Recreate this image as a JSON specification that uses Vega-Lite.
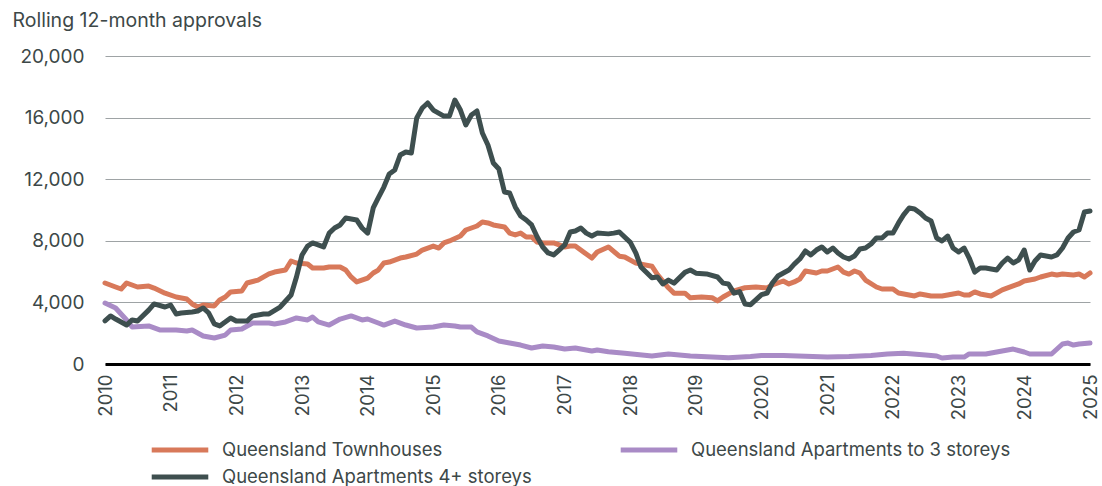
{
  "$schema": "https://vega.github.io/schema/vega-lite/v6.json",
  "autosize": "none",
  "width": 985,
  "height": 308,
  "padding": {"left": 105, "top": 56, "right": 12, "bottom": 122},
  "background": "white",
  "config": {
    "font": "Inter",
    "view": {"stroke": null},
    "axis": {"labelColor": "#3d4848", "titleColor": "#3d4848", "labelFont": "Inter", "titleFont": "Inter"},
    "legend": {"labelFont": "Inter", "labelColor": "#3d4848"}
  },
  "data": {"values": [
    {"d":"2010-01","s":"Queensland Townhouses","v":5260},{"d":"2010-03","s":"Queensland Townhouses","v":5000},{"d":"2010-04","s":"Queensland Townhouses","v":4870},{"d":"2010-05","s":"Queensland Townhouses","v":5260},{"d":"2010-07","s":"Queensland Townhouses","v":5000},{"d":"2010-09","s":"Queensland Townhouses","v":5060},{"d":"2010-10","s":"Queensland Townhouses","v":4930},{"d":"2010-12","s":"Queensland Townhouses","v":4600},{"d":"2011-02","s":"Queensland Townhouses","v":4350},{"d":"2011-04","s":"Queensland Townhouses","v":4220},{"d":"2011-05","s":"Queensland Townhouses","v":3900},{"d":"2011-06","s":"Queensland Townhouses","v":3700},{"d":"2011-07","s":"Queensland Townhouses","v":3830},{"d":"2011-09","s":"Queensland Townhouses","v":3770},{"d":"2011-10","s":"Queensland Townhouses","v":4160},{"d":"2011-11","s":"Queensland Townhouses","v":4350},{"d":"2011-12","s":"Queensland Townhouses","v":4680},{"d":"2012-02","s":"Queensland Townhouses","v":4740},{"d":"2012-03","s":"Queensland Townhouses","v":5260},{"d":"2012-05","s":"Queensland Townhouses","v":5450},{"d":"2012-07","s":"Queensland Townhouses","v":5850},{"d":"2012-08","s":"Queensland Townhouses","v":5970},{"d":"2012-10","s":"Queensland Townhouses","v":6100},{"d":"2012-11","s":"Queensland Townhouses","v":6690},{"d":"2012-12","s":"Queensland Townhouses","v":6560},{"d":"2013-02","s":"Queensland Townhouses","v":6490},{"d":"2013-03","s":"Queensland Townhouses","v":6230},{"d":"2013-05","s":"Queensland Townhouses","v":6230},{"d":"2013-06","s":"Queensland Townhouses","v":6300},{"d":"2013-08","s":"Queensland Townhouses","v":6300},{"d":"2013-09","s":"Queensland Townhouses","v":6100},{"d":"2013-10","s":"Queensland Townhouses","v":5650},{"d":"2013-11","s":"Queensland Townhouses","v":5330},{"d":"2014-01","s":"Queensland Townhouses","v":5580},{"d":"2014-02","s":"Queensland Townhouses","v":5910},{"d":"2014-03","s":"Queensland Townhouses","v":6100},{"d":"2014-04","s":"Queensland Townhouses","v":6560},{"d":"2014-05","s":"Queensland Townhouses","v":6620},{"d":"2014-07","s":"Queensland Townhouses","v":6880},{"d":"2014-08","s":"Queensland Townhouses","v":6950},{"d":"2014-10","s":"Queensland Townhouses","v":7140},{"d":"2014-11","s":"Queensland Townhouses","v":7400},{"d":"2015-01","s":"Queensland Townhouses","v":7660},{"d":"2015-02","s":"Queensland Townhouses","v":7530},{"d":"2015-03","s":"Queensland Townhouses","v":7860},{"d":"2015-04","s":"Queensland Townhouses","v":7990},{"d":"2015-06","s":"Queensland Townhouses","v":8310},{"d":"2015-07","s":"Queensland Townhouses","v":8700},{"d":"2015-09","s":"Queensland Townhouses","v":8960},{"d":"2015-10","s":"Queensland Townhouses","v":9220},{"d":"2015-11","s":"Queensland Townhouses","v":9160},{"d":"2015-12","s":"Queensland Townhouses","v":9030},{"d":"2016-02","s":"Queensland Townhouses","v":8900},{"d":"2016-03","s":"Queensland Townhouses","v":8500},{"d":"2016-04","s":"Queensland Townhouses","v":8380},{"d":"2016-05","s":"Queensland Townhouses","v":8500},{"d":"2016-06","s":"Queensland Townhouses","v":8250},{"d":"2016-07","s":"Queensland Townhouses","v":8250},{"d":"2016-08","s":"Queensland Townhouses","v":7920},{"d":"2016-09","s":"Queensland Townhouses","v":7860},{"d":"2016-11","s":"Queensland Townhouses","v":7860},{"d":"2017-01","s":"Queensland Townhouses","v":7600},{"d":"2017-02","s":"Queensland Townhouses","v":7660},{"d":"2017-03","s":"Queensland Townhouses","v":7660},{"d":"2017-05","s":"Queensland Townhouses","v":7140},{"d":"2017-06","s":"Queensland Townhouses","v":6880},{"d":"2017-07","s":"Queensland Townhouses","v":7270},{"d":"2017-09","s":"Queensland Townhouses","v":7600},{"d":"2017-11","s":"Queensland Townhouses","v":7000},{"d":"2017-12","s":"Queensland Townhouses","v":6950},{"d":"2018-02","s":"Queensland Townhouses","v":6550},{"d":"2018-05","s":"Queensland Townhouses","v":6350},{"d":"2018-06","s":"Queensland Townhouses","v":5800},{"d":"2018-08","s":"Queensland Townhouses","v":4950},{"d":"2018-09","s":"Queensland Townhouses","v":4600},{"d":"2018-11","s":"Queensland Townhouses","v":4600},{"d":"2018-12","s":"Queensland Townhouses","v":4300},{"d":"2019-02","s":"Queensland Townhouses","v":4350},{"d":"2019-04","s":"Queensland Townhouses","v":4300},{"d":"2019-05","s":"Queensland Townhouses","v":4100},{"d":"2019-06","s":"Queensland Townhouses","v":4350},{"d":"2019-08","s":"Queensland Townhouses","v":4750},{"d":"2019-10","s":"Queensland Townhouses","v":4950},{"d":"2019-12","s":"Queensland Townhouses","v":5000},{"d":"2020-02","s":"Queensland Townhouses","v":4940},{"d":"2020-03","s":"Queensland Townhouses","v":5130},{"d":"2020-05","s":"Queensland Townhouses","v":5390},{"d":"2020-06","s":"Queensland Townhouses","v":5200},{"d":"2020-07","s":"Queensland Townhouses","v":5330},{"d":"2020-08","s":"Queensland Townhouses","v":5520},{"d":"2020-09","s":"Queensland Townhouses","v":6040},{"d":"2020-11","s":"Queensland Townhouses","v":5910},{"d":"2020-12","s":"Queensland Townhouses","v":6040},{"d":"2021-01","s":"Queensland Townhouses","v":6040},{"d":"2021-03","s":"Queensland Townhouses","v":6300},{"d":"2021-04","s":"Queensland Townhouses","v":5970},{"d":"2021-05","s":"Queensland Townhouses","v":5840},{"d":"2021-06","s":"Queensland Townhouses","v":6040},{"d":"2021-07","s":"Queensland Townhouses","v":5910},{"d":"2021-08","s":"Queensland Townhouses","v":5450},{"d":"2021-10","s":"Queensland Townhouses","v":5000},{"d":"2021-11","s":"Queensland Townhouses","v":4870},{"d":"2022-01","s":"Queensland Townhouses","v":4870},{"d":"2022-02","s":"Queensland Townhouses","v":4610},{"d":"2022-04","s":"Queensland Townhouses","v":4480},{"d":"2022-05","s":"Queensland Townhouses","v":4420},{"d":"2022-06","s":"Queensland Townhouses","v":4550},{"d":"2022-08","s":"Queensland Townhouses","v":4420},{"d":"2022-10","s":"Queensland Townhouses","v":4420},{"d":"2022-11","s":"Queensland Townhouses","v":4480},{"d":"2023-01","s":"Queensland Townhouses","v":4610},{"d":"2023-02","s":"Queensland Townhouses","v":4480},{"d":"2023-03","s":"Queensland Townhouses","v":4480},{"d":"2023-04","s":"Queensland Townhouses","v":4680},{"d":"2023-05","s":"Queensland Townhouses","v":4550},{"d":"2023-07","s":"Queensland Townhouses","v":4420},{"d":"2023-08","s":"Queensland Townhouses","v":4610},{"d":"2023-09","s":"Queensland Townhouses","v":4810},{"d":"2023-10","s":"Queensland Townhouses","v":4940},{"d":"2023-12","s":"Queensland Townhouses","v":5200},{"d":"2024-01","s":"Queensland Townhouses","v":5390},{"d":"2024-03","s":"Queensland Townhouses","v":5520},{"d":"2024-04","s":"Queensland Townhouses","v":5650},{"d":"2024-06","s":"Queensland Townhouses","v":5840},{"d":"2024-07","s":"Queensland Townhouses","v":5780},{"d":"2024-08","s":"Queensland Townhouses","v":5840},{"d":"2024-10","s":"Queensland Townhouses","v":5780},{"d":"2024-11","s":"Queensland Townhouses","v":5840},{"d":"2024-12","s":"Queensland Townhouses","v":5650},{"d":"2025-01","s":"Queensland Townhouses","v":5910},
    {"d":"2010-01","s":"Queensland Apartments to 3 storeys","v":3960},{"d":"2010-03","s":"Queensland Apartments to 3 storeys","v":3640},{"d":"2010-05","s":"Queensland Apartments to 3 storeys","v":2860},{"d":"2010-06","s":"Queensland Apartments to 3 storeys","v":2400},{"d":"2010-09","s":"Queensland Apartments to 3 storeys","v":2470},{"d":"2010-11","s":"Queensland Apartments to 3 storeys","v":2210},{"d":"2011-02","s":"Queensland Apartments to 3 storeys","v":2210},{"d":"2011-04","s":"Queensland Apartments to 3 storeys","v":2140},{"d":"2011-05","s":"Queensland Apartments to 3 storeys","v":2210},{"d":"2011-07","s":"Queensland Apartments to 3 storeys","v":1820},{"d":"2011-09","s":"Queensland Apartments to 3 storeys","v":1690},{"d":"2011-11","s":"Queensland Apartments to 3 storeys","v":1880},{"d":"2011-12","s":"Queensland Apartments to 3 storeys","v":2210},{"d":"2012-02","s":"Queensland Apartments to 3 storeys","v":2270},{"d":"2012-04","s":"Queensland Apartments to 3 storeys","v":2660},{"d":"2012-07","s":"Queensland Apartments to 3 storeys","v":2660},{"d":"2012-08","s":"Queensland Apartments to 3 storeys","v":2600},{"d":"2012-10","s":"Queensland Apartments to 3 storeys","v":2730},{"d":"2012-12","s":"Queensland Apartments to 3 storeys","v":2990},{"d":"2013-02","s":"Queensland Apartments to 3 storeys","v":2860},{"d":"2013-03","s":"Queensland Apartments to 3 storeys","v":3050},{"d":"2013-04","s":"Queensland Apartments to 3 storeys","v":2730},{"d":"2013-06","s":"Queensland Apartments to 3 storeys","v":2530},{"d":"2013-08","s":"Queensland Apartments to 3 storeys","v":2920},{"d":"2013-10","s":"Queensland Apartments to 3 storeys","v":3120},{"d":"2013-12","s":"Queensland Apartments to 3 storeys","v":2860},{"d":"2014-01","s":"Queensland Apartments to 3 storeys","v":2920},{"d":"2014-03","s":"Queensland Apartments to 3 storeys","v":2660},{"d":"2014-04","s":"Queensland Apartments to 3 storeys","v":2530},{"d":"2014-06","s":"Queensland Apartments to 3 storeys","v":2790},{"d":"2014-08","s":"Queensland Apartments to 3 storeys","v":2530},{"d":"2014-10","s":"Queensland Apartments to 3 storeys","v":2340},{"d":"2015-01","s":"Queensland Apartments to 3 storeys","v":2400},{"d":"2015-03","s":"Queensland Apartments to 3 storeys","v":2530},{"d":"2015-05","s":"Queensland Apartments to 3 storeys","v":2470},{"d":"2015-06","s":"Queensland Apartments to 3 storeys","v":2400},{"d":"2015-08","s":"Queensland Apartments to 3 storeys","v":2400},{"d":"2015-09","s":"Queensland Apartments to 3 storeys","v":2080},{"d":"2015-11","s":"Queensland Apartments to 3 storeys","v":1820},{"d":"2016-01","s":"Queensland Apartments to 3 storeys","v":1490},{"d":"2016-03","s":"Queensland Apartments to 3 storeys","v":1360},{"d":"2016-05","s":"Queensland Apartments to 3 storeys","v":1230},{"d":"2016-07","s":"Queensland Apartments to 3 storeys","v":1040},{"d":"2016-09","s":"Queensland Apartments to 3 storeys","v":1170},{"d":"2016-11","s":"Queensland Apartments to 3 storeys","v":1100},{"d":"2017-01","s":"Queensland Apartments to 3 storeys","v":970},{"d":"2017-03","s":"Queensland Apartments to 3 storeys","v":1040},{"d":"2017-06","s":"Queensland Apartments to 3 storeys","v":840},{"d":"2017-07","s":"Queensland Apartments to 3 storeys","v":910},{"d":"2017-09","s":"Queensland Apartments to 3 storeys","v":800},{"d":"2017-12","s":"Queensland Apartments to 3 storeys","v":700},{"d":"2018-05","s":"Queensland Apartments to 3 storeys","v":520},{"d":"2018-08","s":"Queensland Apartments to 3 storeys","v":650},{"d":"2018-12","s":"Queensland Apartments to 3 storeys","v":520},{"d":"2019-04","s":"Queensland Apartments to 3 storeys","v":450},{"d":"2019-07","s":"Queensland Apartments to 3 storeys","v":400},{"d":"2019-11","s":"Queensland Apartments to 3 storeys","v":480},{"d":"2020-01","s":"Queensland Apartments to 3 storeys","v":550},{"d":"2020-05","s":"Queensland Apartments to 3 storeys","v":550},{"d":"2020-09","s":"Queensland Apartments to 3 storeys","v":500},{"d":"2021-01","s":"Queensland Apartments to 3 storeys","v":450},{"d":"2021-05","s":"Queensland Apartments to 3 storeys","v":480},{"d":"2021-09","s":"Queensland Apartments to 3 storeys","v":550},{"d":"2021-12","s":"Queensland Apartments to 3 storeys","v":650},{"d":"2022-03","s":"Queensland Apartments to 3 storeys","v":700},{"d":"2022-07","s":"Queensland Apartments to 3 storeys","v":580},{"d":"2022-09","s":"Queensland Apartments to 3 storeys","v":520},{"d":"2022-10","s":"Queensland Apartments to 3 storeys","v":390},{"d":"2022-12","s":"Queensland Apartments to 3 storeys","v":450},{"d":"2023-02","s":"Queensland Apartments to 3 storeys","v":450},{"d":"2023-03","s":"Queensland Apartments to 3 storeys","v":650},{"d":"2023-05","s":"Queensland Apartments to 3 storeys","v":650},{"d":"2023-06","s":"Queensland Apartments to 3 storeys","v":650},{"d":"2023-08","s":"Queensland Apartments to 3 storeys","v":780},{"d":"2023-10","s":"Queensland Apartments to 3 storeys","v":910},{"d":"2023-11","s":"Queensland Apartments to 3 storeys","v":970},{"d":"2024-01","s":"Queensland Apartments to 3 storeys","v":780},{"d":"2024-02","s":"Queensland Apartments to 3 storeys","v":650},{"d":"2024-04","s":"Queensland Apartments to 3 storeys","v":650},{"d":"2024-06","s":"Queensland Apartments to 3 storeys","v":650},{"d":"2024-08","s":"Queensland Apartments to 3 storeys","v":1300},{"d":"2024-09","s":"Queensland Apartments to 3 storeys","v":1360},{"d":"2024-10","s":"Queensland Apartments to 3 storeys","v":1230},{"d":"2024-11","s":"Queensland Apartments to 3 storeys","v":1300},{"d":"2025-01","s":"Queensland Apartments to 3 storeys","v":1360},
    {"d":"2010-01","s":"Queensland Apartments 4+ storeys","v":2800},{"d":"2010-02","s":"Queensland Apartments 4+ storeys","v":3120},{"d":"2010-03","s":"Queensland Apartments 4+ storeys","v":2920},{"d":"2010-05","s":"Queensland Apartments 4+ storeys","v":2530},{"d":"2010-06","s":"Queensland Apartments 4+ storeys","v":2860},{"d":"2010-07","s":"Queensland Apartments 4+ storeys","v":2790},{"d":"2010-09","s":"Queensland Apartments 4+ storeys","v":3500},{"d":"2010-10","s":"Queensland Apartments 4+ storeys","v":3900},{"d":"2010-12","s":"Queensland Apartments 4+ storeys","v":3700},{"d":"2011-01","s":"Queensland Apartments 4+ storeys","v":3830},{"d":"2011-02","s":"Queensland Apartments 4+ storeys","v":3250},{"d":"2011-03","s":"Queensland Apartments 4+ storeys","v":3310},{"d":"2011-05","s":"Queensland Apartments 4+ storeys","v":3380},{"d":"2011-06","s":"Queensland Apartments 4+ storeys","v":3440},{"d":"2011-07","s":"Queensland Apartments 4+ storeys","v":3640},{"d":"2011-08","s":"Queensland Apartments 4+ storeys","v":3310},{"d":"2011-09","s":"Queensland Apartments 4+ storeys","v":2600},{"d":"2011-10","s":"Queensland Apartments 4+ storeys","v":2470},{"d":"2011-12","s":"Queensland Apartments 4+ storeys","v":2990},{"d":"2012-01","s":"Queensland Apartments 4+ storeys","v":2790},{"d":"2012-03","s":"Queensland Apartments 4+ storeys","v":2790},{"d":"2012-04","s":"Queensland Apartments 4+ storeys","v":3120},{"d":"2012-06","s":"Queensland Apartments 4+ storeys","v":3250},{"d":"2012-07","s":"Queensland Apartments 4+ storeys","v":3250},{"d":"2012-09","s":"Queensland Apartments 4+ storeys","v":3700},{"d":"2012-11","s":"Queensland Apartments 4+ storeys","v":4480},{"d":"2012-12","s":"Queensland Apartments 4+ storeys","v":5650},{"d":"2013-01","s":"Queensland Apartments 4+ storeys","v":7080},{"d":"2013-02","s":"Queensland Apartments 4+ storeys","v":7660},{"d":"2013-03","s":"Queensland Apartments 4+ storeys","v":7860},{"d":"2013-05","s":"Queensland Apartments 4+ storeys","v":7600},{"d":"2013-06","s":"Queensland Apartments 4+ storeys","v":8500},{"d":"2013-07","s":"Queensland Apartments 4+ storeys","v":8830},{"d":"2013-08","s":"Queensland Apartments 4+ storeys","v":9030},{"d":"2013-09","s":"Queensland Apartments 4+ storeys","v":9480},{"d":"2013-11","s":"Queensland Apartments 4+ storeys","v":9350},{"d":"2013-12","s":"Queensland Apartments 4+ storeys","v":8830},{"d":"2014-01","s":"Queensland Apartments 4+ storeys","v":8500},{"d":"2014-02","s":"Queensland Apartments 4+ storeys","v":10130},{"d":"2014-03","s":"Queensland Apartments 4+ storeys","v":10780},{"d":"2014-04","s":"Queensland Apartments 4+ storeys","v":11490},{"d":"2014-05","s":"Queensland Apartments 4+ storeys","v":12340},{"d":"2014-06","s":"Queensland Apartments 4+ storeys","v":12600},{"d":"2014-07","s":"Queensland Apartments 4+ storeys","v":13570},{"d":"2014-08","s":"Queensland Apartments 4+ storeys","v":13770},{"d":"2014-09","s":"Queensland Apartments 4+ storeys","v":13700},{"d":"2014-10","s":"Queensland Apartments 4+ storeys","v":15980},{"d":"2014-11","s":"Queensland Apartments 4+ storeys","v":16620},{"d":"2014-12","s":"Queensland Apartments 4+ storeys","v":16950},{"d":"2015-01","s":"Queensland Apartments 4+ storeys","v":16490},{"d":"2015-03","s":"Queensland Apartments 4+ storeys","v":16100},{"d":"2015-04","s":"Queensland Apartments 4+ storeys","v":16100},{"d":"2015-05","s":"Queensland Apartments 4+ storeys","v":17140},{"d":"2015-06","s":"Queensland Apartments 4+ storeys","v":16490},{"d":"2015-07","s":"Queensland Apartments 4+ storeys","v":15520},{"d":"2015-08","s":"Queensland Apartments 4+ storeys","v":16170},{"d":"2015-09","s":"Queensland Apartments 4+ storeys","v":16430},{"d":"2015-10","s":"Queensland Apartments 4+ storeys","v":15000},{"d":"2015-11","s":"Queensland Apartments 4+ storeys","v":14220},{"d":"2015-12","s":"Queensland Apartments 4+ storeys","v":13050},{"d":"2016-01","s":"Queensland Apartments 4+ storeys","v":12660},{"d":"2016-02","s":"Queensland Apartments 4+ storeys","v":11170},{"d":"2016-03","s":"Queensland Apartments 4+ storeys","v":11100},{"d":"2016-04","s":"Queensland Apartments 4+ storeys","v":10200},{"d":"2016-05","s":"Queensland Apartments 4+ storeys","v":9610},{"d":"2016-06","s":"Queensland Apartments 4+ storeys","v":9350},{"d":"2016-07","s":"Queensland Apartments 4+ storeys","v":9030},{"d":"2016-08","s":"Queensland Apartments 4+ storeys","v":8250},{"d":"2016-09","s":"Queensland Apartments 4+ storeys","v":7600},{"d":"2016-10","s":"Queensland Apartments 4+ storeys","v":7210},{"d":"2016-11","s":"Queensland Apartments 4+ storeys","v":7080},{"d":"2016-12","s":"Queensland Apartments 4+ storeys","v":7400},{"d":"2017-01","s":"Queensland Apartments 4+ storeys","v":7730},{"d":"2017-02","s":"Queensland Apartments 4+ storeys","v":8570},{"d":"2017-03","s":"Queensland Apartments 4+ storeys","v":8640},{"d":"2017-04","s":"Queensland Apartments 4+ storeys","v":8830},{"d":"2017-05","s":"Queensland Apartments 4+ storeys","v":8500},{"d":"2017-06","s":"Queensland Apartments 4+ storeys","v":8310},{"d":"2017-07","s":"Queensland Apartments 4+ storeys","v":8500},{"d":"2017-09","s":"Queensland Apartments 4+ storeys","v":8450},{"d":"2017-10","s":"Queensland Apartments 4+ storeys","v":8500},{"d":"2017-11","s":"Queensland Apartments 4+ storeys","v":8570},{"d":"2018-01","s":"Queensland Apartments 4+ storeys","v":7900},{"d":"2018-02","s":"Queensland Apartments 4+ storeys","v":7200},{"d":"2018-03","s":"Queensland Apartments 4+ storeys","v":6300},{"d":"2018-05","s":"Queensland Apartments 4+ storeys","v":5600},{"d":"2018-06","s":"Queensland Apartments 4+ storeys","v":5650},{"d":"2018-07","s":"Queensland Apartments 4+ storeys","v":5200},{"d":"2018-08","s":"Queensland Apartments 4+ storeys","v":5450},{"d":"2018-09","s":"Queensland Apartments 4+ storeys","v":5250},{"d":"2018-11","s":"Queensland Apartments 4+ storeys","v":5950},{"d":"2018-12","s":"Queensland Apartments 4+ storeys","v":6100},{"d":"2019-01","s":"Queensland Apartments 4+ storeys","v":5900},{"d":"2019-03","s":"Queensland Apartments 4+ storeys","v":5850},{"d":"2019-05","s":"Queensland Apartments 4+ storeys","v":5650},{"d":"2019-06","s":"Queensland Apartments 4+ storeys","v":5250},{"d":"2019-07","s":"Queensland Apartments 4+ storeys","v":5200},{"d":"2019-08","s":"Queensland Apartments 4+ storeys","v":4600},{"d":"2019-09","s":"Queensland Apartments 4+ storeys","v":4700},{"d":"2019-10","s":"Queensland Apartments 4+ storeys","v":3900},{"d":"2019-11","s":"Queensland Apartments 4+ storeys","v":3850},{"d":"2020-01","s":"Queensland Apartments 4+ storeys","v":4500},{"d":"2020-02","s":"Queensland Apartments 4+ storeys","v":4610},{"d":"2020-03","s":"Queensland Apartments 4+ storeys","v":5260},{"d":"2020-04","s":"Queensland Apartments 4+ storeys","v":5710},{"d":"2020-06","s":"Queensland Apartments 4+ storeys","v":6100},{"d":"2020-07","s":"Queensland Apartments 4+ storeys","v":6490},{"d":"2020-08","s":"Queensland Apartments 4+ storeys","v":6820},{"d":"2020-09","s":"Queensland Apartments 4+ storeys","v":7340},{"d":"2020-10","s":"Queensland Apartments 4+ storeys","v":7080},{"d":"2020-11","s":"Queensland Apartments 4+ storeys","v":7400},{"d":"2020-12","s":"Queensland Apartments 4+ storeys","v":7600},{"d":"2021-01","s":"Queensland Apartments 4+ storeys","v":7270},{"d":"2021-02","s":"Queensland Apartments 4+ storeys","v":7530},{"d":"2021-03","s":"Queensland Apartments 4+ storeys","v":7210},{"d":"2021-04","s":"Queensland Apartments 4+ storeys","v":6950},{"d":"2021-05","s":"Queensland Apartments 4+ storeys","v":6820},{"d":"2021-06","s":"Queensland Apartments 4+ storeys","v":7010},{"d":"2021-07","s":"Queensland Apartments 4+ storeys","v":7470},{"d":"2021-08","s":"Queensland Apartments 4+ storeys","v":7530},{"d":"2021-09","s":"Queensland Apartments 4+ storeys","v":7790},{"d":"2021-10","s":"Queensland Apartments 4+ storeys","v":8180},{"d":"2021-11","s":"Queensland Apartments 4+ storeys","v":8180},{"d":"2021-12","s":"Queensland Apartments 4+ storeys","v":8500},{"d":"2022-01","s":"Queensland Apartments 4+ storeys","v":8500},{"d":"2022-02","s":"Queensland Apartments 4+ storeys","v":9160},{"d":"2022-03","s":"Queensland Apartments 4+ storeys","v":9680},{"d":"2022-04","s":"Queensland Apartments 4+ storeys","v":10130},{"d":"2022-05","s":"Queensland Apartments 4+ storeys","v":10070},{"d":"2022-06","s":"Queensland Apartments 4+ storeys","v":9810},{"d":"2022-07","s":"Queensland Apartments 4+ storeys","v":9480},{"d":"2022-08","s":"Queensland Apartments 4+ storeys","v":9290},{"d":"2022-09","s":"Queensland Apartments 4+ storeys","v":8180},{"d":"2022-10","s":"Queensland Apartments 4+ storeys","v":7990},{"d":"2022-11","s":"Queensland Apartments 4+ storeys","v":8310},{"d":"2022-12","s":"Queensland Apartments 4+ storeys","v":7530},{"d":"2023-01","s":"Queensland Apartments 4+ storeys","v":7270},{"d":"2023-02","s":"Queensland Apartments 4+ storeys","v":7530},{"d":"2023-03","s":"Queensland Apartments 4+ storeys","v":6880},{"d":"2023-04","s":"Queensland Apartments 4+ storeys","v":5970},{"d":"2023-05","s":"Queensland Apartments 4+ storeys","v":6230},{"d":"2023-06","s":"Queensland Apartments 4+ storeys","v":6230},{"d":"2023-08","s":"Queensland Apartments 4+ storeys","v":6100},{"d":"2023-09","s":"Queensland Apartments 4+ storeys","v":6560},{"d":"2023-10","s":"Queensland Apartments 4+ storeys","v":6880},{"d":"2023-11","s":"Queensland Apartments 4+ storeys","v":6560},{"d":"2023-12","s":"Queensland Apartments 4+ storeys","v":6750},{"d":"2024-01","s":"Queensland Apartments 4+ storeys","v":7400},{"d":"2024-02","s":"Queensland Apartments 4+ storeys","v":6100},{"d":"2024-03","s":"Queensland Apartments 4+ storeys","v":6690},{"d":"2024-04","s":"Queensland Apartments 4+ storeys","v":7080},{"d":"2024-06","s":"Queensland Apartments 4+ storeys","v":6950},{"d":"2024-07","s":"Queensland Apartments 4+ storeys","v":7080},{"d":"2024-08","s":"Queensland Apartments 4+ storeys","v":7530},{"d":"2024-09","s":"Queensland Apartments 4+ storeys","v":8180},{"d":"2024-10","s":"Queensland Apartments 4+ storeys","v":8570},{"d":"2024-11","s":"Queensland Apartments 4+ storeys","v":8700},{"d":"2024-12","s":"Queensland Apartments 4+ storeys","v":9870},{"d":"2025-01","s":"Queensland Apartments 4+ storeys","v":9940}
  ]},
  "mark": {"type": "line", "strokeWidth": 5, "strokeJoin": "round", "strokeCap": "round"},
  "encoding": {
    "x": {
      "field": "d", "type": "temporal",
      "scale": {"type": "utc", "domain": ["2010-01-01", "2025-01-01"], "nice": false},
      "axis": {
        "title": null, "format": "%Y", "tickCount": {"interval": "year", "step": 1},
        "labelAngle": -90, "labelAlign": "right", "labelBaseline": "middle",
        "labelFontSize": 18.5, "labelPadding": 10, "ticks": false,
        "domainColor": "#000000", "domainWidth": 3, "grid": false, "labelOverlap": false,
        "labelFlush": false
      }
    },
    "y": {
      "field": "v", "type": "quantitative",
      "scale": {"domain": [0, 20000], "nice": false},
      "axis": {
        "values": [0, 4000, 8000, 12000, 16000, 20000], "format": ",d",
        "title": "Rolling 12-month approvals", "titleAngle": 0, "titleAlign": "left",
        "titleBaseline": "alphabetic", "titleX": -93, "titleY": -30,
        "titleFontSize": 19.5, "titleFontWeight": "normal",
        "labelFontSize": 19, "labelPadding": 21, "ticks": false, "domain": false,
        "grid": true, "gridColor": "#9ea3a5", "gridWidth": 1.2
      }
    },
    "color": {
      "field": "s", "type": "nominal",
      "scale": {
        "domain": ["Queensland Townhouses", "Queensland Apartments 4+ storeys", "Queensland Apartments to 3 storeys"],
        "range": ["#d8795a", "#3e4f4f", "#a98bc6"]
      },
      "legend": {
        "title": null, "orient": "none", "legendX": 44, "legendY": 382,
        "columns": 2, "columnPadding": 86, "rowPadding": 3, "clipHeight": 24,
        "symbolType": "stroke", "symbolSize": 3200, "symbolStrokeWidth": 5,
        "labelFontSize": 18.5, "labelOffset": 11, "labelLimit": 500, "padding": 0
      }
    }
  }
}
